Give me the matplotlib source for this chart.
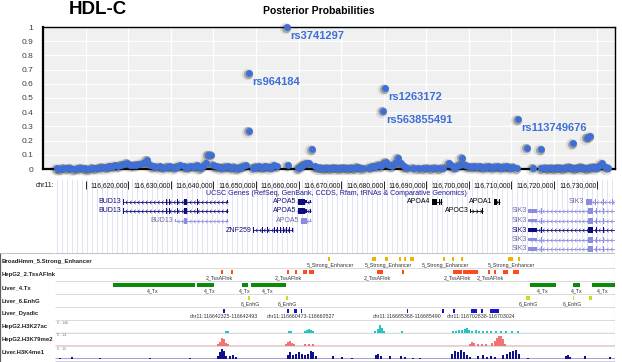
import numpy as np
import matplotlib.pyplot as plt
from matplotlib.patches import Rectangle
from matplotlib.path import Path
from matplotlib import transforms

plt.rcParams["font.family"] = ["Liberation Sans", "DejaVu Sans"]

# chr11 window, kb
WIN_START = 116600.0
WIN_END = 116734.31
TRK_START = 116602.82

# ---- posterior probabilities (offset from window start, kb) ----
bg_offset_kb = [
    3.3, 4.0, 4.7, 5.6, 6.3, 7.3, 8.2, 8.9, 9.9, 10.6, 11.5, 12.2, 13.2, 13.9,
    14.8, 15.5, 16.2, 16.9, 17.6, 18.3, 19.0, 19.7, 20.4, 21.1, 21.8, 22.5, 23.5, 24.4,
    25.1, 25.8, 26.5, 27.5, 28.2, 29.1, 29.8, 30.8, 31.5, 32.2, 33.1, 33.8, 34.5, 35.5,
    36.2, 36.9, 37.6, 38.3, 38.7, 39.5, 39.9, 40.6, 41.3, 42.0, 42.7, 43.4, 44.1, 44.9,
    45.6, 46.3, 47.0, 47.7,
    49.3, 50.0, 50.7, 51.4, 52.1, 52.8, 53.5, 54.2, 54.9, 57.5,
    59.9, 60.6, 61.1, 61.8, 62.5, 63.2, 63.9, 64.6, 65.3, 66.0, 66.7, 67.4, 68.1, 68.8,
    69.5, 70.2, 70.9, 71.6, 72.3, 73.0, 73.7, 74.4, 75.1,
    76.5, 77.3, 78.0, 78.7, 79.4, 80.1, 80.5, 81.2, 82.0, 82.7, 83.4, 84.1, 84.8, 85.5,
    86.9, 88.1, 89.2, 90.2, 91.1, 92.0, 93.0, 93.9,
    95.3, 95.8, 96.5, 97.2, 97.9, 98.4, 99.1, 99.8, 100.5, 101.2, 101.9, 102.6, 103.3,
    104.0, 104.7, 105.4, 106.1, 106.8, 107.5, 108.2, 109.0, 109.7, 110.4, 111.3,
    115.1, 116.9, 117.9, 118.6, 119.3, 120.0, 120.7, 121.4, 122.1, 122.8, 123.5, 124.2,
    124.9, 125.6, 126.3, 127.0, 127.7, 128.4, 129.1, 129.8, 130.6, 131.3, 132.0, 132.7,
]
bg_pp = [
    0.005, 0.0, 0.01, 0.005, 0.01, 0.0, 0.005, 0.01, 0.005, 0.0, 0.01, 0.005, 0.01, 0.015,
    0.01, 0.02, 0.015, 0.025, 0.02, 0.03, 0.035, 0.045, 0.03, 0.025, 0.03, 0.035, 0.04, 0.065,
    0.03, 0.02, 0.015, 0.02, 0.01, 0.015, 0.02, 0.01, 0.015, 0.025, 0.02, 0.01, 0.02, 0.015,
    0.025, 0.005, 0.02, 0.04, 0.1, 0.1, 0.03, 0.02, 0.015, 0.01, 0.015, 0.02, 0.01, 0.015,
    0.005, 0.01, 0.02, 0.025,
    0.01, 0.015, 0.02, 0.01, 0.02, 0.015, 0.01, 0.025, 0.02, 0.025,
    0.005, 0.015, 0.03, 0.04, 0.04, 0.14, 0.02, 0.01, 0.01, 0.005, 0.01, 0.005, 0.01, 0.01,
    0.005, 0.01, 0.01, 0.005, 0.01, 0.005, 0.015, 0.01, 0.005,
    0.01, 0.02, 0.015, 0.03, 0.02, 0.04, 0.05, 0.03, 0.02, 0.04, 0.08, 0.04, 0.02, 0.01,
    0.01, 0.005, 0.005, 0.01, 0.005, 0.01, 0.005, 0.01,
    0.04, 0.025, 0.01, 0.02, 0.03, 0.08, 0.03, 0.02, 0.015, 0.02, 0.015, 0.02, 0.01,
    0.015, 0.02, 0.01, 0.015, 0.02, 0.01, 0.015, 0.02, 0.01, 0.015, 0.005,
    0.01, 0.005, 0.01, 0.005, 0.01, 0.005, 0.01, 0.01, 0.005, 0.01, 0.015, 0.01,
    0.005, 0.01, 0.015, 0.01, 0.005, 0.01, 0.015, 0.01, 0.02, 0.04, 0.015, 0.01,
]
mid_offset_kb = [48.4, 113.6, 116.9, 124.4, 127.7, 128.4]
mid_pp = [0.27, 0.15, 0.14, 0.18, 0.22, 0.23]

lead_snps = ["rs3741297", "rs964184", "rs1263172", "rs563855491", "rs113749676"]
lead_offset_kb = [57.3, 48.4, 80.3, 79.8, 111.5]
lead_pp = [1.0, 0.676, 0.57, 0.41, 0.35]

# ---- ruler ----
ruler_kb = list(range(116610, 116731, 10))

# ---- UCSC gene models: (start, end, coding) exons, kb ----
gene_names = ["BUD13", "BUD13", "BUD13", "ZNF259", "APOA5", "APOA5", "APOA5",
              "APOA4", "APOC3", "APOA1", "SIK3", "SIK3", "SIK3", "SIK3", "SIK3", "SIK3"]
gene_rows = [0, 1, 2, 3, 0, 1, 2, 0, 1, 0, 0, 1, 2, 3, 4, 5]
gene_start = [116618.7, 116618.7, 116630.9, 116649.2, 116659.7, 116659.7, 116660.4,
              116691.3, 116700.2, 116705.8, 116727.4, 116713.9, 116713.9, 116713.9,
              116713.9, 116713.9]
gene_end = [116643.5, 116643.5, 116643.5, 116658.7, 116662.9, 116662.9, 116662.9,
            116693.7, 116703.4, 116707.3, 116734.3, 116734.3, 116734.3, 116734.3,
            116734.3, 116734.3]
gene_strand = ["-", "-", "-", "-", "-", "-", "-", "-", "+", "-",
               "-", "-", "-", "-", "-", "-"]
gene_shade = ["dark", "dark", "light", "dark", "dark", "dark", "light",
              "black", "black", "black", "light", "light", "light", "dark", "light", "light"]
bud13_exons = [(116618.7, 116619.1, 1), (116628.3, 116628.5, 1), (116628.8, 116629.0, 1),
               (116629.5, 116629.7, 1), (116631.4, 116631.6, 1), (116633.1, 116633.7, 1),
               (116636.1, 116636.3, 1), (116643.3, 116643.5, 0)]
bud13_short_exons = [(116630.9, 116631.2, 0), (116633.1, 116633.7, 1), (116643.3, 116643.5, 0)]
znf259_exons = [(116649.2, 116649.6, 1), (116651.5, 116651.7, 1), (116652.6, 116652.8, 1),
                (116654.2, 116654.4, 1), (116655.0, 116655.2, 1), (116655.7, 116655.9, 1),
                (116656.4, 116656.6, 1), (116657.1, 116657.3, 1), (116657.8, 116658.0, 1),
                (116658.5, 116658.7, 0)]
apoa5_exons = [(116659.8, 116661.5, 1), (116661.5, 116662.1, 0), (116662.8, 116662.9, 0)]
apoa5_alt_exons = [(116660.5, 116661.9, 1), (116662.8, 116662.9, 0)]
apoa4_exons = [(116691.3, 116692.5, 1), (116692.9, 116693.1, 1), (116693.5, 116693.7, 1)]
apoc3_exons = [(116700.2, 116700.4, 0), (116703.1, 116703.4, 1)]
apoa1_exons = [(116705.8, 116706.6, 1), (116707.0, 116707.3, 1)]
sik3_top_exons = [(116727.4, 116728.9, 1), (116729.6, 116729.8, 1), (116731.4, 116731.6, 1),
                  (116733.7, 116733.9, 1)]
sik3_exons = [(116713.9, 116716.0, 0), (116716.9, 116717.1, 1), (116727.9, 116729.1, 1),
              (116729.8, 116730.0, 1), (116731.4, 116731.6, 1), (116733.5, 116733.7, 1)]
gene_exons = [bud13_exons, bud13_exons, bud13_short_exons, znf259_exons,
              apoa5_exons, apoa5_exons, apoa5_alt_exons, apoa4_exons, apoc3_exons,
              apoa1_exons, sik3_top_exons, sik3_exons, sik3_exons, sik3_exons,
              sik3_exons, sik3_exons]

# ---- chromatin state tracks ----
track_names = ["BroadHmm_5.Strong_Enhancer", "HepG2_2.TssAFlnk", "Liver_4.Tx",
               "Liver_6.EnhG", "Liver_Dyadic", "HepG2.H3K27ac", "HepG2.H3K79me2",
               "Liver.H3K4me1"]

enh_start = [116666.9, 116677.3, 116680.3, 116683.6, 116684.8, 116686.2, 116693.9,
             116696.0, 116698.2, 116709.2, 116711.5]
enh_end = [116667.4, 116678.2, 116681.0, 116684.1, 116685.0, 116687.1, 116694.4,
           116696.5, 116698.6, 116710.4, 116712.0]
enh_label_kb = [116667.4, 116681.0, 116694.4, 116709.9]

tss_start = [116641.8, 116644.1, 116657.3, 116659.2, 116661.1, 116662.5, 116678.4,
             116684.3, 116696.3, 116698.6, 116704.5, 116705.9, 116708.0, 116710.4]
tss_end = [116642.3, 116644.6, 116657.8, 116659.6, 116662.0, 116663.6, 116679.8,
           116684.8, 116698.4, 116702.1, 116705.0, 116706.4, 116709.2, 116711.8]
tss_label_kb = [116641.3, 116657.5, 116678.4, 116697.2, 116705.0]

tx_start = [116616.4, 116636.2, 116646.7, 116648.8, 116714.4, 116724.4, 116728.9]
tx_end = [116635.7, 116640.2, 116648.1, 116657.1, 116720.5, 116726.1, 116734.3]
tx_label_kb = [116625.8, 116639.2, 116647.4, 116652.8, 116717.4, 116725.4, 116731.5]

enhg_start = [116648.1, 116657.1, 116713.4, 116724.4, 116728.2]
enhg_end = [116648.6, 116657.5, 116714.4, 116724.7, 116728.9]
enhg_label_kb = [116648.6, 116657.3, 116713.9, 116724.4]

dyad_start = [116642.325, 116657.3, 116658.9, 116660.473, 116685.368, 116693.7,
              116696.3, 116700.5, 116702.838, 116705.0]
dyad_end = [116642.493, 116657.8, 116659.6, 116660.527, 116685.490, 116694.2,
            116696.7, 116701.9, 116703.024, 116707.1]
dyad_labels = ["chr11:116642325-116642493", "chr11:116660473-116660527",
               "chr11:116685368-116685490", "chr11:116702838-116703024"]
dyad_label_kb = [116642.4, 116660.5, 116685.4, 116702.9]

# ---- signal tracks (relative height, 0-1) ----
k27ac_kb = [116643.0, 116643.4, 116657.8, 116658.2, 116661.5, 116662.0, 116662.5, 116662.9,
            116663.4, 116678.0, 116678.7, 116679.1, 116679.6, 116680.1, 116684.3, 116696.3,
            116697.0, 116697.7, 116698.4, 116699.1, 116699.6, 116700.0, 116700.7, 116701.7,
            116702.4, 116703.3, 116704.3, 116705.2, 116706.4, 116707.5, 116708.7, 116710.1,
            116711.5]
k27ac_val = [0.1, 0.14, 0.1, 0.1, 0.14, 0.27, 0.36, 0.27, 0.14, 0.14, 0.36, 0.72, 0.45,
             0.18, 0.1, 0.14, 0.18, 0.23, 0.27, 0.36, 0.45, 0.27, 0.18, 0.23, 0.18, 0.14,
             0.18, 0.14, 0.18, 0.1, 0.14, 0.1, 0.14]

k79me2_kb = [116641.1, 116641.6, 116642.0, 116642.5, 116643.0, 116643.4, 116657.1, 116657.5,
             116658.0, 116658.5, 116658.9, 116661.5, 116662.5, 116663.4, 116700.3, 116700.7,
             116701.2, 116702.1, 116703.1, 116704.0, 116705.4, 116706.1, 116706.6, 116707.1,
             116707.5, 116708.0, 116708.5]
k79me2_val = [0.18, 0.36, 0.64, 0.55, 0.27, 0.14, 0.18, 0.36, 0.45, 0.27, 0.14, 0.14, 0.18,
              0.1, 0.18, 0.36, 0.27, 0.18, 0.14, 0.18, 0.27, 0.45, 0.64, 0.82, 0.9, 0.55, 0.18]

k4me1_kb = [116604.0, 116606.8, 116613.4, 116625.1, 116634.5, 116641.1, 116641.6, 116642.0,
            116642.5, 116643.0, 116643.9, 116644.6, 116645.3, 116657.5, 116658.0, 116658.7,
            116659.4, 116660.1, 116660.8, 116661.5, 116662.2, 116662.9, 116663.4, 116664.1,
            116668.1, 116670.2, 116672.6, 116678.2, 116678.7, 116679.4, 116681.5, 116684.1,
            116685.0, 116686.9, 116688.5, 116696.0, 116696.7, 116697.4, 116698.1, 116698.9,
            116699.6, 116700.3, 116702.1, 116703.3, 116704.3, 116705.2, 116706.1, 116708.0,
            116708.9, 116709.7, 116710.4, 116711.1, 116711.8, 116713.9, 116722.8, 116723.3,
            116723.7, 116727.3, 116733.1]
k4me1_val = [0.09, 0.18, 0.09, 0.09, 0.09, 0.27, 0.55, 0.82, 0.64, 0.27, 0.27, 0.36, 0.18,
             0.36, 0.55, 0.36, 0.45, 0.55, 0.45, 0.36, 0.45, 0.64, 0.55, 0.27, 0.27, 0.18,
             0.09, 0.36, 0.45, 0.27, 0.27, 0.27, 0.18, 0.09, 0.09, 0.45, 0.64, 0.55, 0.73,
             0.55, 0.36, 0.18, 0.27, 0.36, 0.18, 0.27, 0.18, 0.36, 0.45, 0.55, 0.64, 0.73,
             0.45, 0.09, 0.27, 0.36, 0.18, 0.27, 0.18]
signal_ranges = ["0 - 146", "0 - 14", "0 - 15"]


W, H = 622, 362
fig = plt.figure(figsize=(W / 100, H / 100), dpi=100)

# ---------------- posterior probability panel ----------------
ax = fig.add_axes([43 / W, 1 - 169 / H, 572 / W, 142 / H])
ax.set_facecolor("#f0f0f0")
ax.set_xlim(WIN_START, WIN_END)
ax.set_ylim(0, 1)
ax.set_xticks(ruler_kb)
ax.set_xticklabels([])
ax.set_yticks(np.arange(0, 1.01, 0.1))
ax.set_yticklabels(["0"] + [f"{v:.1f}" for v in np.arange(0.1, 0.95, 0.1)] + ["1"],
                   fontsize=6, color="#404040")
ax.tick_params(length=0, pad=7)
ax.grid(color="white", lw=0.9)
ax.set_axisbelow(True)
for side, lw in [("left", 1.6), ("bottom", 1.6), ("top", 1.0), ("right", 1.0)]:
    ax.spines[side].set_color("black")
    ax.spines[side].set_linewidth(lw)

all_x = [WIN_START + o for o in bg_offset_kb + mid_offset_kb + lead_offset_kb]
all_y = bg_pp + mid_pp + lead_pp
shadow1 = transforms.offset_copy(ax.transData, fig=fig, x=-1.8, y=-1.0, units="dots")
shadow2 = transforms.offset_copy(ax.transData, fig=fig, x=-1.0, y=-0.5, units="dots")
ax.scatter(all_x, all_y, s=70, color="#222222", alpha=0.10, lw=0,
           transform=shadow1, clip_on=False, zorder=3)
ax.scatter(all_x, all_y, s=42, color="#222222", alpha=0.30, lw=0,
           transform=shadow2, clip_on=False, zorder=3)
ax.scatter(all_x, all_y, s=24, color="#3d6fd6", lw=0, clip_on=False, zorder=4)

for name, off, pp in zip(lead_snps, lead_offset_kb, lead_pp):
    ax.annotate(name, (WIN_START + off, pp), xytext=(3, -9), textcoords="offset pixels",
                ha="left", va="center", fontsize=8, fontweight="bold", color="#3d6fd6",
                zorder=5, annotation_clip=False)

fig.text(98 / W, 1 - 10 / H, "HDL-C", fontsize=13.5, fontweight="bold",
         ha="center", va="center")
fig.text(319 / W, 1 - 11 / H, "Posterior Probabilities", fontsize=7.5,
         fontweight="bold", ha="center", va="center")

# ---------------- browser panel ----------------
lab = fig.add_axes([0, 0, 55 / W, 190 / H])
lab.set_xlim(0, 55)
lab.set_ylim(362, 172)
lab.axis("off")

trk = fig.add_axes([55 / W, 0, 560 / W, 190 / H])
trk.set_xlim(TRK_START, WIN_END)
trk.set_ylim(362, 172)
trk.axis("off")
PX = (WIN_END - TRK_START) / 560.0  # kb per pixel

# light guidelines in the gene area
guides = np.arange(TRK_START + 2 * PX, WIN_END, 5 * PX)
trk.vlines(guides, 179, 253, color="#dedef6", lw=0.6, zorder=0)

# ruler
for kb in ruler_kb:
    trk.vlines(kb, 181, 189, color="black", lw=0.6)
    if kb > ruler_kb[0]:
        trk.text(kb - 0.4 * PX, 185.5, f"{kb * 1000:,}", fontsize=4.9, ha="right",
                 va="center", color="#111111")
lab.text(54, 185.5, "chr11:", fontsize=4.9, ha="right", va="center", color="#111111")

trk.text(116668.8, 193.5, "UCSC Genes (RefSeq, GenBank, CCDS, Rfam, tRNAs & Comparative Genomics)",
         fontsize=5.1, ha="center", va="center", color="#1c1c8c")

# genes
row_y = [201.5, 211, 220.5, 230, 239.5, 249]
shade_col = {"dark": "#0c0c7a", "light": "#8c8cdc", "black": "#000000"}
label_col = {"dark": "#0c0c7a", "light": "#6c6ca4", "black": "#000000"}
chev_l = Path([(0.6, 1), (-0.4, 0), (0.6, -1)], [Path.MOVETO, Path.LINETO, Path.LINETO])
chev_r = Path([(-0.6, 1), (0.4, 0), (-0.6, -1)], [Path.MOVETO, Path.LINETO, Path.LINETO])
for name, row, gs, ge, strand, shade, exons in zip(gene_names, gene_rows, gene_start,
                                                   gene_end, gene_strand, gene_shade,
                                                   gene_exons):
    y = row_y[row]
    col = shade_col[shade]
    trk.hlines(y, gs, min(ge, WIN_END), color=col, lw=0.6, zorder=2)
    cx = np.arange(gs + 3 * PX, min(ge, WIN_END) - PX, 4 * PX)
    trk.plot(cx, np.full(len(cx), y), ls="none", marker=chev_l if strand == "-" else chev_r,
             ms=2.6, mfc="none", mec=col, mew=0.45, zorder=2)
    for s, e, coding in exons:
        h = 6 if coding else 3.5
        w = max(e - s, 0.9 * PX)
        trk.add_patch(Rectangle((s, y - h / 2), w, h, color=col, lw=0, zorder=3))
    trk.text(gs - 1.2 * PX, y, name, fontsize=5, ha="right", va="center",
             color=label_col[shade], zorder=4)

# track frame
track_top = [255, 268, 281, 294, 307, 320, 333, 346]
trk.hlines(track_top[1:], TRK_START, WIN_END, color="#d4d4d4", lw=0.6)
trk.hlines(253, TRK_START, WIN_END, color="#b8b8b8", lw=0.6)
lab.hlines(253, 0, 55, color="#b8b8b8", lw=0.6)
trk.vlines(WIN_END - 0.3 * PX, 253, 362, color="#a8a8a8", lw=0.8)
lab.vlines(54.7, 178, 362, color="#c4c4c4", lw=0.7)
lab.vlines(0.4, 253, 362, color="#606060", lw=0.9)
trk.hlines(361.3, TRK_START, WIN_END, color="#c8c8c8", lw=0.6)

for name, top in zip(track_names, track_top):
    lab.text(2, top + 6.5, name, fontsize=4.3, fontweight="bold", ha="left",
             va="center", color="#222222")


def feature_track(top, starts, ends, label_kb, labels, color):
    for s, e in zip(starts, ends):
        w = max(e - s, 1.6 * PX)
        trk.add_patch(Rectangle((s, top + 2.3), w, 3.4, color=color, lw=0, zorder=3))
    for kb, txt in zip(label_kb, labels):
        trk.text(kb, top + 10, txt, fontsize=3.8, ha="center", va="center", color="#333333")


feature_track(track_top[0], enh_start, enh_end, enh_label_kb,
              ["5_Strong_Enhancer"] * len(enh_label_kb), "#efb400")
feature_track(track_top[1], tss_start, tss_end, tss_label_kb,
              ["2_TssAFlnk"] * len(tss_label_kb), "#ff4a1e")
feature_track(track_top[2], tx_start, tx_end, tx_label_kb,
              ["4_Tx"] * len(tx_label_kb), "#0c8a0c")
feature_track(track_top[3], enhg_start, enhg_end, enhg_label_kb,
              ["6_EnhG"] * len(enhg_label_kb), "#c4e01c")
feature_track(track_top[4], dyad_start, dyad_end, dyad_label_kb, dyad_labels, "#1414c4")


def signal_track(top, pos, val, color, base_color, rng):
    base = top + 12.5
    trk.hlines(base - 0.4, TRK_START, WIN_END, color=base_color, lw=0.7, zorder=2)
    trk.bar(pos, [-v * 11 for v in val], width=2.2 * PX, bottom=base, color=color,
            lw=0, zorder=3)
    trk.text(TRK_START + 2 * PX, top + 2.5, rng, fontsize=2.6, ha="left", va="center",
             color="#777777")


signal_track(track_top[5], k27ac_kb, k27ac_val, "#22c4c4", "#e8f8f8", signal_ranges[0])
signal_track(track_top[6], k79me2_kb, k79me2_val, "#f07474", "#f8c8c8", signal_ranges[1])
signal_track(track_top[7], k4me1_kb, k4me1_val, "#10108c", "#9c9ce4", signal_ranges[2])

fig.savefig("out.png", dpi=100)
